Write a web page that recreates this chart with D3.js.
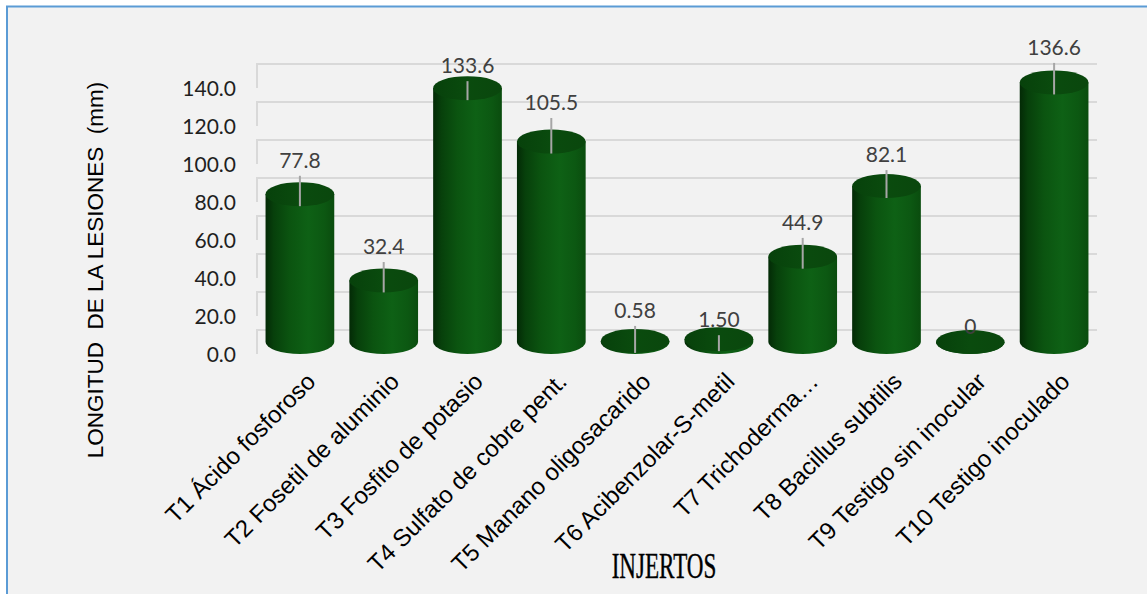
<!DOCTYPE html>
<html>
<head>
<meta charset="utf-8">
<script src="https://cdn.jsdelivr.net/npm/d3@7"></script>
<style>
  html, body { margin: 0; padding: 0; background: #ffffff; }
  svg { display: block; }
</style>
</head>
<body>
<div id="chart"></div>
<script>
// Treatments, mean lesion length (mm), upper error and axis ticks
const categories = [
  "T1 Ácido fosforoso",
  "T2 Fosetil de aluminio",
  "T3 Fosfito de potasio",
  "T4 Sulfato de cobre pent.",
  "T5 Manano oligosacarido",
  "T6 Acibenzolar-S-metil",
  "T7 Trichoderma…",
  "T8 Bacillus subtilis",
  "T9 Testigo sin inocular",
  "T10 Testigo inoculado"
];
const values = [77.8, 32.4, 133.6, 105.5, 0.58, 1.50, 44.9, 82.1, 0, 136.6];
const valueLabels = ["77.8", "32.4", "133.6", "105.5", "0.58", "1.50", "44.9", "82.1", "0", "136.6"];
const errors = [16, 16, 10, 18.7, 14.2, 8.4, 16.2, 14.7, 0, 16.6];
const yTicks = [0, 20, 40, 60, 80, 100, 120, 140];
const yTitle = "LONGITUD  DE LA LESIONES  (mm)";
const xTitle = "INJERTOS";

const W = 1147, H = 594;
const depth = 12;            // half depth of the 3-D plot box (px)

const svg = d3.select("#chart").append("svg")
  .attr("width", W).attr("height", H);

// chart area with frame
svg.append("rect")
  .attr("x", 7).attr("y", 6.5)
  .attr("width", W + 20).attr("height", H + 20)
  .attr("fill", "#f2f2f2")
  .attr("stroke", "#5b9bd5").attr("stroke-width", 2);

const defs = svg.append("defs");
const body = defs.append("linearGradient").attr("id", "cylBody")
  .attr("x1", "0%").attr("x2", "100%").attr("y1", "0%").attr("y2", "0%");
[["0%", "#032a06"], ["12%", "#07400b"], ["35%", "#0b5410"], ["62%", "#0e6115"], ["85%", "#0c5812"], ["100%", "#0a4c0e"]]
  .forEach(([o, c]) => body.append("stop").attr("offset", o).attr("stop-color", c));
const cap = defs.append("linearGradient").attr("id", "cylCap")
  .attr("x1", "0%").attr("x2", "100%").attr("y1", "0%").attr("y2", "0%");
[["0%", "#07410b"], ["50%", "#0a4b0e"], ["100%", "#0a470d"]]
  .forEach(([o, c]) => cap.append("stop").attr("offset", o).attr("stop-color", c));

// scales: mid-depth plane for the cylinders
const x = d3.scaleBand().domain(categories).range([258, 1096]).padding(0);
const yMid = d3.scaleLinear().domain([0, 140]).range([342, 76]);
const yBack = v => yMid(v) - depth;
const yFront = d3.scaleLinear().domain([0, 140]).range([342 + depth, 76 + depth]);

// back wall gridlines with side-wall return
const grid = svg.append("g");
yTicks.forEach(t => {
  grid.append("path")
    .attr("d", `M257,${yFront(t)}L257,${yBack(t)}L1097,${yBack(t)}`)
    .attr("fill", "none")
    .attr("stroke", "#d9d9d9").attr("stroke-width", 2);
});

// y axis tick labels
const yAxis = svg.append("g")
  .attr("transform", "translate(236,0)")
  .call(d3.axisLeft(yFront).tickValues(yTicks).tickFormat(d3.format(".1f")).tickSize(0).tickPadding(0));
yAxis.select(".domain").remove();
yAxis.selectAll("text")
  .attr("font-family", "Lato, 'Open Sans', sans-serif")
  .attr("font-size", 21)
  .attr("fill", "#1f1f1f")
  .attr("dy", "0.36em");

// cylinders
const rx = x.bandwidth() * 0.41, ry = 12;
const bars = svg.append("g").selectAll("g").data(categories).join("g");
bars.each(function (c, i) {
  const g = d3.select(this);
  const cx = x(c) + x.bandwidth() / 2;
  const yt = yMid(values[i]), yb = yMid(0);
  g.append("path")
    .attr("d", `M${cx - rx},${yt}L${cx - rx},${yb}A${rx},${ry} 0 0 0 ${cx + rx},${yb}L${cx + rx},${yt}Z`)
    .attr("fill", "url(#cylBody)");
  g.append("ellipse")
    .attr("cx", cx).attr("cy", yt).attr("rx", rx).attr("ry", ry)
    .attr("fill", "url(#cylCap)");
  if (errors[i] > 0) {
    g.append("line")
      .attr("x1", cx).attr("x2", cx)
      .attr("y1", yt + depth).attr("y2", yMid(values[i] + errors[i]) + depth)
      .attr("stroke", "#a6a6a6").attr("stroke-width", 2);
  }
  const top = Math.min(yMid(values[i] + errors[i]) + depth, yt);
  g.append("text")
    .attr("x", cx).attr("y", top - 8)
    .attr("text-anchor", "middle")
    .attr("font-family", "Lato, 'Open Sans', sans-serif")
    .attr("font-size", 21)
    .attr("fill", "#404040")
    .text(valueLabels[i]);
});

// category labels
svg.append("g").selectAll("text").data(categories).join("text")
  .attr("transform", d => `translate(${x(d) + x.bandwidth() / 2 + 17},383) rotate(-45)`)
  .attr("text-anchor", "end")
  .attr("font-family", "'Liberation Sans', Arial, sans-serif")
  .attr("font-size", 24)
  .attr("fill", "#000000")
  .text(d => d);

// axis titles
svg.append("text")
  .attr("transform", "translate(95,270) rotate(-90)")
  .attr("text-anchor", "middle")
  .attr("dominant-baseline", "central")
  .style("white-space", "pre")
  .attr("font-family", "'Liberation Sans', Arial, sans-serif")
  .attr("font-size", 22.5)
  .attr("fill", "#000000")
  .text(yTitle);

svg.append("text")
  .attr("transform", "translate(664,578) scale(0.66,1)")
  .attr("text-anchor", "middle")
  .attr("font-family", "'Liberation Serif', 'DejaVu Serif', serif")
  .attr("font-size", 35)
  .attr("fill", "#000000")
  .attr("stroke", "#000000").attr("stroke-width", 0.4)
  .text(xTitle);
</script>
</body>
</html>
